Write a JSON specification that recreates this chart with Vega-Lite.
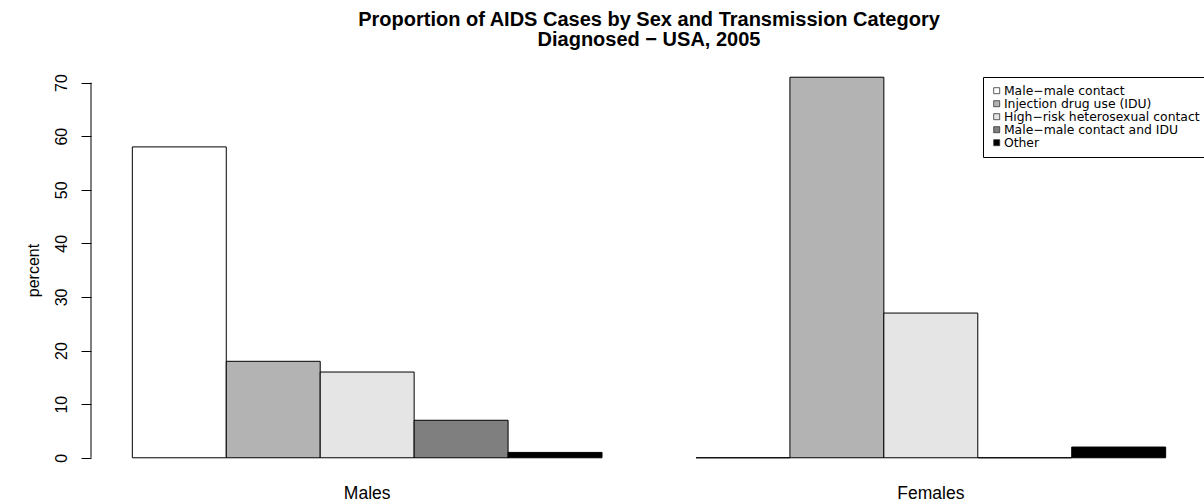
{
  "$schema": "https://vega.github.io/schema/vega-lite/v6.json",
  "autosize": "none",
  "width": 1116,
  "height": 411,
  "padding": {"left": 91, "top": 62, "right": 0, "bottom": 29},
  "background": "white",
  "title": {
    "text": ["Proportion of AIDS Cases by Sex and Transmission Category", "Diagnosed − USA, 2005"],
    "font": "Liberation Sans",
    "fontSize": 20,
    "fontWeight": "bold",
    "color": "black",
    "lineHeight": 20,
    "anchor": "middle",
    "frame": "group",
    "baseline": "alphabetic",
    "offset": 0,
    "dy": 3.5
  },
  "config": {
    "view": {"stroke": null},
    "font": "Liberation Sans"
  },
  "layer": [
    {
      "data": {
        "values": [
          {"sex": "Males", "category": "Male−male contact", "percent": 58},
          {"sex": "Males", "category": "Injection drug use (IDU)", "percent": 18},
          {"sex": "Males", "category": "High−risk heterosexual contact", "percent": 16},
          {"sex": "Males", "category": "Male−male contact and IDU", "percent": 7},
          {"sex": "Males", "category": "Other", "percent": 1},
          {"sex": "Females", "category": "Male−male contact", "percent": 0},
          {"sex": "Females", "category": "Injection drug use (IDU)", "percent": 71},
          {"sex": "Females", "category": "High−risk heterosexual contact", "percent": 27},
          {"sex": "Females", "category": "Male−male contact and IDU", "percent": 0},
          {"sex": "Females", "category": "Other", "percent": 2}
        ]
      },
      "mark": {"type": "bar", "stroke": "black", "strokeWidth": 1, "cornerRadius": 0},
      "encoding": {
        "x": {
          "field": "sex",
          "type": "nominal",
          "sort": ["Males", "Females"],
          "scale": {"paddingInner": 0.16667, "paddingOuter": 0.07333, "align": 0.5},
          "axis": {
            "title": null,
            "domain": false,
            "ticks": false,
            "labelAngle": 0,
            "labelFontSize": 17.5,
            "labelColor": "black",
            "labelPadding": 11,
            "labelBaseline": "top"
          }
        },
        "xOffset": {
          "field": "category",
          "type": "nominal",
          "sort": ["Male−male contact", "Injection drug use (IDU)", "High−risk heterosexual contact", "Male−male contact and IDU", "Other"],
          "scale": {"paddingInner": 0, "paddingOuter": 0}
        },
        "y": {
          "field": "percent",
          "type": "quantitative",
          "scale": {"domain": [-2.84, 73.84], "nice": false, "zero": false},
          "axis": {
            "title": "percent",
            "titleFontSize": 16,
            "titleFontWeight": "normal",
            "titleColor": "black",
            "titleAngle": -90,
            "titleBaseline": "alphabetic",
            "titleAlign": "center",
            "titleX": -53,
            "titleY": 208,
            "values": [0, 10, 20, 30, 40, 50, 60, 70],
            "grid": false,
            "domain": false,
            "tickSize": 10,
            "tickColor": "black",
            "tickWidth": 1,
            "labelAngle": -90,
            "labelAlign": "center",
            "labelBaseline": "alphabetic",
            "labelFontSize": 16,
            "labelColor": "black",
            "labelPadding": 15
          }
        },
        "fill": {
          "field": "category",
          "type": "nominal",
          "sort": ["Male−male contact", "Injection drug use (IDU)", "High−risk heterosexual contact", "Male−male contact and IDU", "Other"],
          "scale": {"range": ["#FFFFFF", "#B3B3B3", "#E5E5E5", "#7F7F7F", "#000000"]},
          "legend": {
            "title": null,
            "orient": "none",
            "legendX": 892,
            "legendY": 15,
            "strokeColor": "black",
            "fillColor": "white",
            "padding": 7.5,
            "symbolType": "square",
            "symbolSize": 36,
            "symbolStrokeColor": "#333333",
            "symbolStrokeWidth": 0.8,
            "labelFont": "DejaVu Sans",
            "labelFontSize": 12.4,
            "labelColor": "black",
            "labelOffset": 1,
            "rowPadding": 0,
            "labelLimit": 400
          }
        }
      }
    },
    {
      "data": {"values": [{"from": 0, "to": 70}]},
      "mark": {"type": "rule", "color": "black", "strokeWidth": 1},
      "encoding": {
        "x": {"value": 0},
        "y": {"field": "from", "type": "quantitative"},
        "y2": {"field": "to"}
      }
    }
  ]
}
